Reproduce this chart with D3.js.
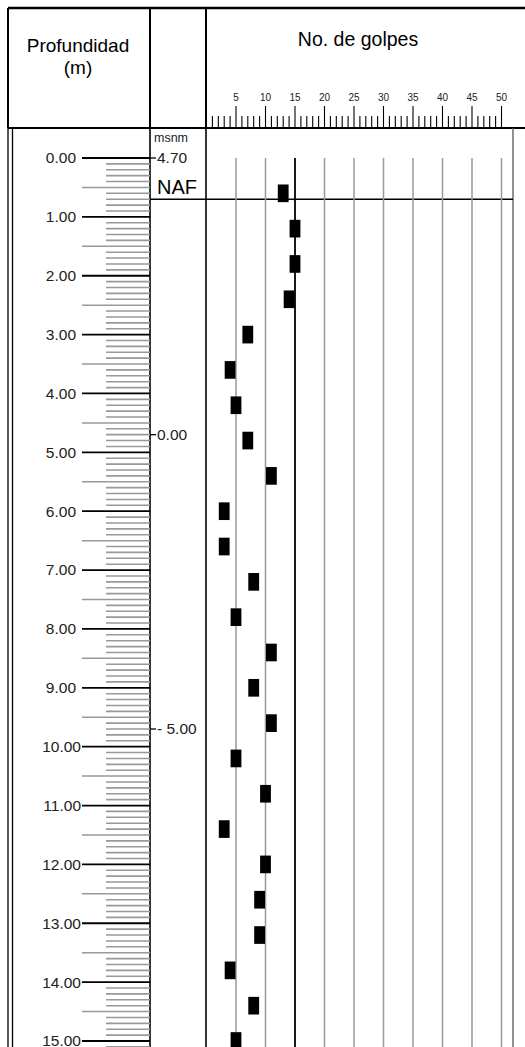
<!DOCTYPE html>
<html>
<head>
<meta charset="utf-8">
<script src="https://cdn.jsdelivr.net/npm/d3@7"></script>
<style>
  html, body { margin: 0; padding: 0; background: #fff; }
  svg { display: block; font-family: "Liberation Sans", Arial, sans-serif; }
</style>
</head>
<body>
<div id="chart"></div>
<script>
// Sample depths (m) and SPT blow counts
const sampleDepths = [0.6, 1.2, 1.8, 2.4, 3.0, 3.6, 4.2, 4.8, 5.4, 6.0, 6.6, 7.2, 7.8,
                      8.4, 9.0, 9.6, 10.2, 10.8, 11.4, 12.0, 12.6, 13.2, 13.8, 14.4, 15.0];
const blowCounts = [13, 15, 15, 14, 7, 4, 5, 7, 11, 3, 3, 8, 5,
                    11, 8, 11, 5, 10, 3, 10, 9, 9, 4, 8, 5];

// Axis labels
const depthTicks = [0, 1, 2, 3, 4, 5, 6, 7, 8, 9, 10, 11, 12, 13, 14, 15];
const blowTicks = [5, 10, 15, 20, 25, 30, 35, 40, 45, 50];
const elevTicks = [4.70, 0.00, -5.00];
const groundElev = 4.70;
const nafDepth = 0.70;
const refBlow = 15;

const W = 525, H = 1047;
const headTop = 8, headBottom = 128;
const colLeft = 8, colDepth = 150, colElev = 206, colRight = 513;

const svg = d3.select('#chart').append('svg')
    .attr('width', W)
    .attr('height', H);

const y = d3.scaleLinear().domain([0, 15]).range([158, 1041]);
const x = d3.scaleLinear().domain([0, 50]).range([206.5, 501.5]);

// ---------- header ----------
const head = svg.append('g');
head.append('line').attr('x1', colLeft).attr('x2', W).attr('y1', headTop).attr('y2', headTop)
    .attr('stroke', '#000').attr('stroke-width', 2.5);
head.append('line').attr('x1', colLeft).attr('x2', W).attr('y1', headBottom).attr('y2', headBottom)
    .attr('stroke', '#000').attr('stroke-width', 2);
[colLeft, colDepth, colElev].forEach(cx => {
    head.append('line').attr('x1', cx).attr('x2', cx).attr('y1', headTop).attr('y2', headBottom)
        .attr('stroke', '#000').attr('stroke-width', 2);
});

head.append('text').attr('x', 78).attr('y', 52).attr('text-anchor', 'middle')
    .style('font-size', '19px').text('Profundidad');
head.append('text').attr('x', 78).attr('y', 74).attr('text-anchor', 'middle')
    .style('font-size', '19px').text('(m)');
head.append('text').attr('x', 358).attr('y', 46).attr('text-anchor', 'middle')
    .style('font-size', '19.5px').text('No. de golpes');

// blow count ruler in header
const minorBlow = d3.range(1, 51);
head.selectAll('.rtick').data(minorBlow).enter().append('line')
    .attr('x1', d => x(d)).attr('x2', d => x(d))
    .attr('y1', d => d % 5 === 0 ? 106 : 116).attr('y2', headBottom)
    .attr('stroke', '#000').attr('stroke-width', 1.1);
head.selectAll('.rlabel').data(blowTicks).enter().append('text')
    .attr('x', d => x(d)).attr('y', 101).attr('text-anchor', 'middle')
    .style('font-size', '10px').style('fill', '#222').text(d => d);

// ---------- body frame ----------
const body = svg.append('g');
[colLeft, colLeft + 4.5].forEach(cx => {
    body.append('line').attr('x1', cx).attr('x2', cx).attr('y1', headBottom).attr('y2', H)
        .attr('stroke', '#000').attr('stroke-width', 1.3);
});
[colDepth, colElev].forEach(cx => {
    body.append('line').attr('x1', cx).attr('x2', cx).attr('y1', headBottom).attr('y2', H)
        .attr('stroke', '#000').attr('stroke-width', 1.6);
});
body.append('line').attr('x1', colRight).attr('x2', colRight).attr('y1', headBottom).attr('y2', H)
    .attr('stroke', '#555').attr('stroke-width', 1.3);

// ---------- depth ruler ----------
const fine = d3.range(0, 152).map(i => i / 10).filter(d => y(d) < H + 2);
body.selectAll('.fine').data(fine.filter(d => Math.round(d * 10) % 5 !== 0)).enter().append('line')
    .attr('x1', 106).attr('x2', colDepth).attr('y1', d => y(d)).attr('y2', d => y(d))
    .attr('stroke', '#999').attr('stroke-width', 1.6);
body.selectAll('.half').data(fine.filter(d => Math.round(d * 10) % 10 === 5)).enter().append('line')
    .attr('x1', 82).attr('x2', colDepth).attr('y1', d => y(d)).attr('y2', d => y(d))
    .attr('stroke', '#999').attr('stroke-width', 1.5);
body.selectAll('.major').data(depthTicks).enter().append('line')
    .attr('x1', 82).attr('x2', colDepth).attr('y1', d => y(d)).attr('y2', d => y(d))
    .attr('stroke', '#000').attr('stroke-width', 1.8);
body.selectAll('.dlabel').data(depthTicks).enter().append('text')
    .attr('x', d => d >= 10 ? 81 : 76).attr('y', d => y(d)).attr('dy', '0.35em')
    .attr('text-anchor', 'end')
    .style('font-size', '15.5px').style('fill', '#222')
    .text(d => d3.format('.2f')(d));

// ---------- elevation column ----------
body.append('text').attr('x', 154).attr('y', 142).style('font-size', '12.5px').style('fill', '#222').text('msnm');
const elevY = e => y(groundElev - e);
body.selectAll('.etick').data(elevTicks).enter().append('line')
    .attr('x1', colDepth).attr('x2', 156).attr('y1', d => elevY(d)).attr('y2', d => elevY(d))
    .attr('stroke', '#000').attr('stroke-width', 1.3);
body.selectAll('.elabel').data(elevTicks).enter().append('text')
    .attr('x', 157).attr('y', d => elevY(d)).attr('dy', '0.35em')
    .style('font-size', '15.5px').style('fill', '#222')
    .text(d => d < 0 ? '- ' + d3.format('.2f')(-d) : d3.format('.2f')(d));

body.append('text').attr('x', 157).attr('y', y(nafDepth) - 5)
    .style('font-size', '20px').text('NAF');
body.append('line').attr('x1', colDepth).attr('x2', colRight)
    .attr('y1', y(nafDepth)).attr('y2', y(nafDepth))
    .attr('stroke', '#000').attr('stroke-width', 1.5);

// ---------- blow count grid ----------
body.selectAll('.grid').data(blowTicks).enter().append('line')
    .attr('x1', d => x(d)).attr('x2', d => x(d))
    .attr('y1', y(0)).attr('y2', H)
    .attr('stroke', d => d === refBlow ? '#000' : '#999')
    .attr('stroke-width', d => d === refBlow ? 1.8 : 1.5);

// ---------- markers ----------
const markH = y(0.3) - y(0);
body.selectAll('.mark').data(sampleDepths.map((d, i) => ({ depth: d, n: blowCounts[i] })))
    .enter().append('rect')
    .attr('x', d => x(d.n) - 5.4)
    .attr('y', d => y(d.depth) - markH / 2)
    .attr('width', 10.8)
    .attr('height', markH)
    .attr('fill', '#000');
</script>
</body>
</html>
